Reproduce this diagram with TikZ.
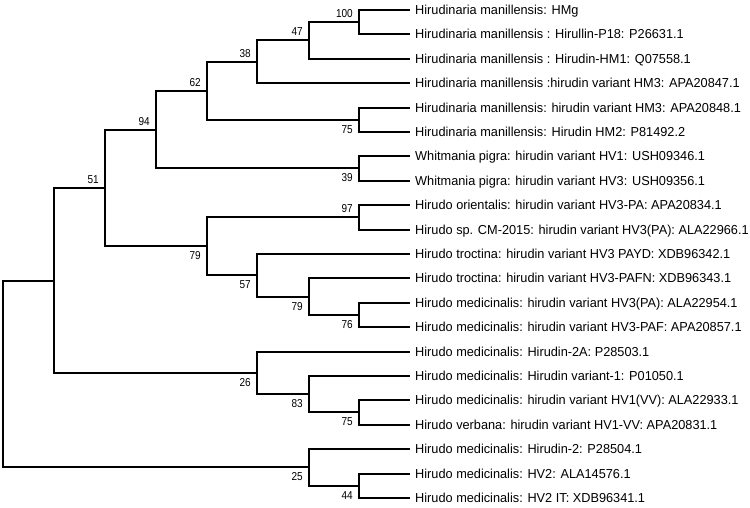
\documentclass[tikz,border=0pt]{standalone}
\usepackage{fontspec}
\setmainfont{Liberation Sans}
\newfontfamily\leaffont[FakeStretch=0.98]{Liberation Sans}
\newfontfamily\bsfont[FakeStretch=0.87]{Liberation Sans}
\begin{document}
\begin{tikzpicture}[x=1pt,y=-1pt,
  br/.style={line width=2pt, line join=miter},
  leaflab/.style={anchor=base west, inner sep=0pt, xshift=5pt, yshift=-4.7pt, font=\leaffont\fontsize{13}{15}\selectfont},
  bsup/.style={anchor=south east, inner sep=0pt, xshift=-6pt, yshift=4.5pt, font=\bsfont\fontsize{11.5}{13}\selectfont},
  bsdn/.style={anchor=north east, inner sep=0pt, xshift=-6pt, yshift=-5.5pt, font=\bsfont\fontsize{11.5}{13}\selectfont}]
\useasboundingbox (0,0) rectangle (750,507);
% leaves
\foreach \i/\y in {0/10,1/34,2/59,3/83,4/108,5/132,6/156,7/181,8/205,9/230,10/254,11/278,12/303,13/327,14/352,15/376,16/400,17/425,18/449,19/474,20/498}{\coordinate (L\i) at (410,\y);}
% internal nodes
\coordinate (N100) at (359,22);
\coordinate (N47) at (309,40);
\coordinate (N38) at (257,62);
\coordinate (N75a) at (359,120);
\coordinate (N62) at (207,91);
\coordinate (N39) at (359,168);
\coordinate (N94) at (156,130);
\coordinate (N97) at (359,217);
\coordinate (N76) at (359,315);
\coordinate (N79b) at (309,297);
\coordinate (N57) at (257,275);
\coordinate (N79a) at (207,246);
\coordinate (N51) at (105,188);
\coordinate (N75b) at (359,412);
\coordinate (N83) at (309,394);
\coordinate (N26) at (257,373);
\coordinate (N0) at (54,281);
\coordinate (N44) at (359,486);
\coordinate (N25) at (309,467);
\coordinate (R) at (3,374);
% branches
\draw[br] (N100) |- (L0); \draw[br] (N100) |- (L1);
\draw[br] (N47) |- (N100); \draw[br] (N47) |- (L2);
\draw[br] (N38) |- (N47); \draw[br] (N38) |- (L3);
\draw[br] (N75a) |- (L4); \draw[br] (N75a) |- (L5);
\draw[br] (N62) |- (N38); \draw[br] (N62) |- (N75a);
\draw[br] (N39) |- (L6); \draw[br] (N39) |- (L7);
\draw[br] (N94) |- (N62); \draw[br] (N94) |- (N39);
\draw[br] (N97) |- (L8); \draw[br] (N97) |- (L9);
\draw[br] (N76) |- (L12); \draw[br] (N76) |- (L13);
\draw[br] (N79b) |- (L11); \draw[br] (N79b) |- (N76);
\draw[br] (N57) |- (L10); \draw[br] (N57) |- (N79b);
\draw[br] (N79a) |- (N97); \draw[br] (N79a) |- (N57);
\draw[br] (N51) |- (N94); \draw[br] (N51) |- (N79a);
\draw[br] (N75b) |- (L16); \draw[br] (N75b) |- (L17);
\draw[br] (N83) |- (L15); \draw[br] (N83) |- (N75b);
\draw[br] (N26) |- (L14); \draw[br] (N26) |- (N83);
\draw[br] (N0) |- (N51); \draw[br] (N0) |- (N26);
\draw[br] (N44) |- (L19); \draw[br] (N44) |- (L20);
\draw[br] (N25) |- (L18); \draw[br] (N25) |- (N44);
\draw[br] (R) |- (N0); \draw[br] (R) |- (N25);
% bootstrap values
\node[bsup] (b100) at (N100) {100};
\node[bsup] (b47) at (N47) {47};
\node[bsup] (b38) at (N38) {38};
\node[bsup] (b62) at (N62) {62};
\node[bsup] (b94) at (N94) {94};
\node[bsup] (b51) at (N51) {51};
\node[bsup] (b97) at (N97) {97};
\node[bsdn] (b75a) at (N75a) {75};
\node[bsdn] (b39) at (N39) {39};
\node[bsdn] (b79a) at (N79a) {79};
\node[bsdn] (b57) at (N57) {57};
\node[bsdn] (b79b) at (N79b) {79};
\node[bsdn] (b76) at (N76) {76};
\node[bsdn] (b26) at (N26) {26};
\node[bsdn] (b83) at (N83) {83};
\node[bsdn] (b75b) at (N75b) {75};
\node[bsdn] (b25) at (N25) {25};
\node[bsdn] (b44) at (N44) {44};
% leaf labels
\node[leaflab] (t0) at (L0) {Hirudinaria manillensis: HMg};
\node[leaflab] (t1) at (L1) {Hirudinaria manillensis : Hirullin-P18: P26631.1};
\node[leaflab] (t2) at (L2) {Hirudinaria manillensis : Hirudin-HM1: Q07558.1};
\node[leaflab] (t3) at (L3) {Hirudinaria manillensis :hirudin variant HM3: APA20847.1};
\node[leaflab] (t4) at (L4) {Hirudinaria manillensis: hirudin variant HM3: APA20848.1};
\node[leaflab] (t5) at (L5) {Hirudinaria manillensis: Hirudin HM2: P81492.2};
\node[leaflab] (t6) at (L6) {Whitmania pigra: hirudin variant HV1: USH09346.1};
\node[leaflab] (t7) at (L7) {Whitmania pigra: hirudin variant HV3: USH09356.1};
\node[leaflab] (t8) at (L8) {Hirudo orientalis: hirudin variant HV3-PA: APA20834.1};
\node[leaflab] (t9) at (L9) {Hirudo sp. CM-2015: hirudin variant HV3(PA): ALA22966.1};
\node[leaflab] (t10) at (L10) {Hirudo troctina: hirudin variant HV3 PAYD: XDB96342.1};
\node[leaflab] (t11) at (L11) {Hirudo troctina: hirudin variant HV3-PAFN: XDB96343.1};
\node[leaflab] (t12) at (L12) {Hirudo medicinalis: hirudin variant HV3(PA): ALA22954.1};
\node[leaflab] (t13) at (L13) {Hirudo medicinalis: hirudin variant HV3-PAF: APA20857.1};
\node[leaflab] (t14) at (L14) {Hirudo medicinalis: Hirudin-2A: P28503.1};
\node[leaflab] (t15) at (L15) {Hirudo medicinalis: Hirudin variant-1: P01050.1};
\node[leaflab] (t16) at (L16) {Hirudo medicinalis: hirudin variant HV1(VV): ALA22933.1};
\node[leaflab] (t17) at (L17) {Hirudo verbana: hirudin variant HV1-VV: APA20831.1};
\node[leaflab] (t18) at (L18) {Hirudo medicinalis: Hirudin-2: P28504.1};
\node[leaflab] (t19) at (L19) {Hirudo medicinalis: HV2: ALA14576.1};
\node[leaflab] (t20) at (L20) {Hirudo medicinalis: HV2 IT: XDB96341.1};
\end{tikzpicture}
\end{document}
